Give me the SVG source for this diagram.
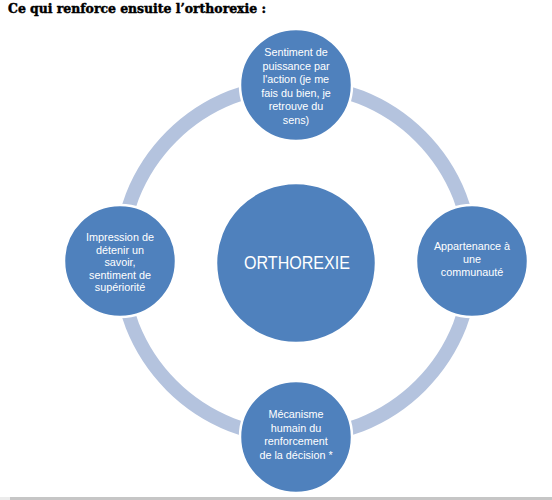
<svg xmlns="http://www.w3.org/2000/svg" width="552" height="500" viewBox="0 0 552 500">
<style>
.title{font-family:"DejaVu Serif","Liberation Serif",serif;font-weight:bold;font-size:12px;fill:#000;stroke:#000;stroke-width:0.45}
.node{fill:#4f81bd;stroke:#fff;stroke-width:2.5}
.lbl{font-family:"Liberation Sans",Arial,sans-serif;font-size:10.8px;fill:#fff;text-anchor:middle}
.big{font-family:"Liberation Sans",Arial,sans-serif;font-size:19px;fill:#fff;text-anchor:middle}
.ring{fill:none;stroke:#b4c3de;stroke-width:14}
</style>
<rect width="552" height="500" fill="#fff"/>
<text class="title" x="8" y="13" textLength="258" lengthAdjust="spacingAndGlyphs">Ce qui renforce ensuite l’orthorexie :</text>
<g id="connectors">
<path class="ring" d="M296 85 A176 176 0 0 1 472 261"/>
<path class="ring" d="M472 261 A176 176 0 0 1 296 437"/>
<path class="ring" d="M296 437 A176 176 0 0 1 120 261"/>
<path class="ring" d="M120 261 A176 176 0 0 1 296 85"/>
</g>
<g id="center">
<circle class="node" cx="296" cy="263" r="80"/>
<text class="big" x="297" y="269" textLength="106" lengthAdjust="spacingAndGlyphs">ORTHOREXIE</text>
</g>
<g id="top">
<circle class="node" cx="296" cy="85" r="56"/>
<text class="lbl" x="296" y="56">Sentiment de</text>
<text class="lbl" x="296" y="70">puissance par</text>
<text class="lbl" x="296" y="83">l'action (je me</text>
<text class="lbl" x="296" y="97">fais du bien, je</text>
<text class="lbl" x="296" y="110">retrouve du</text>
<text class="lbl" x="296" y="124">sens)</text>
</g>
<g id="right">
<circle class="node" cx="472" cy="261" r="56"/>
<text class="lbl" x="472" y="250">Appartenance à</text>
<text class="lbl" x="472" y="263">une</text>
<text class="lbl" x="472" y="276">communauté</text>
</g>
<g id="bottom">
<circle class="node" cx="296" cy="437" r="56"/>
<text class="lbl" x="296" y="418">Mécanisme</text>
<text class="lbl" x="296" y="432">humain du</text>
<text class="lbl" x="296" y="445">renforcement</text>
<text class="lbl" x="296" y="459">de la décision *</text>
</g>
<g id="left">
<circle class="node" cx="120" cy="261" r="56"/>
<text class="lbl" x="120" y="241">Impression de</text>
<text class="lbl" x="120" y="254">détenir un</text>
<text class="lbl" x="120" y="266">savoir,</text>
<text class="lbl" x="120" y="279">sentiment de</text>
<text class="lbl" x="120" y="291">supériorité</text>
</g>
<rect x="0" y="497" width="10" height="3" fill="#ececec"/>
<rect x="10" y="497" width="542" height="3" fill="#c6c6c6"/>
</svg>
